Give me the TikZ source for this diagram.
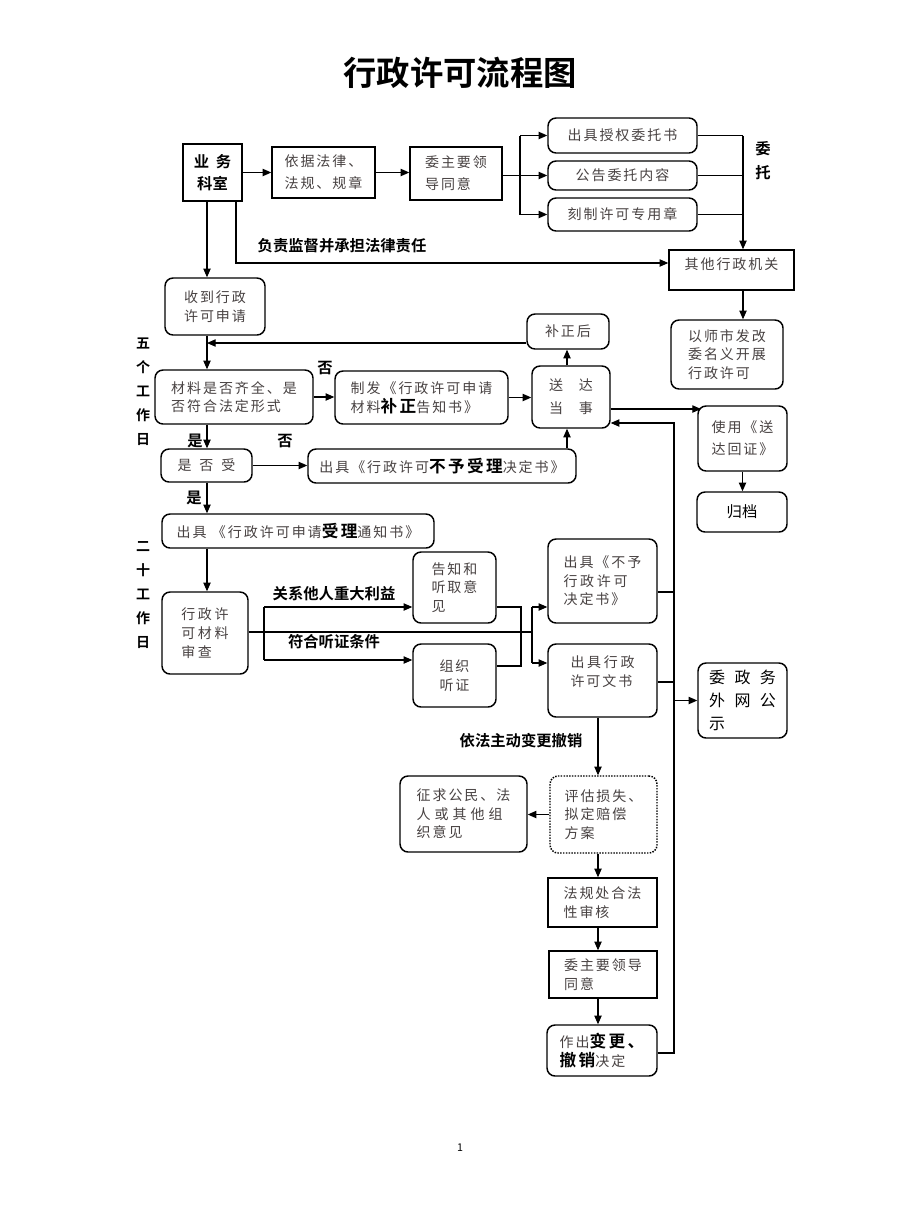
\documentclass[tikz,border=0pt]{standalone}
\usepackage{fontspec}
\setmainfont{Noto Sans CJK SC}[BoldFont={Noto Sans CJK SC Bold}]
\newfontfamily\boxfam{Noto Sans CJK SC}[LetterSpace=14,BoldFont={Noto Sans CJK SC Bold}]
\usetikzlibrary{arrows.meta}
\definecolor{txt}{RGB}{72,66,66}
\newcommand\boxtxt{\boxfam\fontsize{10.5pt}{14pt}\selectfont}
\newcommand\lbltxt{\bfseries\fontsize{11.5pt}{14pt}\selectfont}
\newcommand\hlb[1]{{\bfseries\fontsize{12.5pt}{14pt}\selectfont\color{black}#1}}
\newcommand\gp[1][3pt]{\hspace{#1}}
\begin{document}
\begin{tikzpicture}[x=0.75pt,y=-0.75pt,
  pos/.style n args={4}{at={({(#1+#3)/2},{(#2+#4)/2})}, minimum width={(#3-#1)*0.75pt}, minimum height={(#4-#2)*0.75pt}},
  box/.style={draw, line width=1.1pt, inner sep=0pt, align=center, font=\boxtxt, text=txt},
  rbox/.style={box, rounded corners=6pt},
  lft/.style={align=left},
  conn/.style={line width=0.8pt, -{Triangle[length=6.5pt,width=5.5pt]}},
  ln/.style={line width=0.8pt},
  lbl/.style={font=\lbltxt, text=black, inner sep=0pt, align=center}]
\path[use as bounding box, fill=white] (0,0) rectangle (923,1210);

% title
\node[inner sep=0pt, font=\bfseries\fontsize{25pt}{28pt}\selectfont] (title) at (460,73) {行政许可流程图};

% boxes
\node[box, pos={183}{144}{242}{201}, font=\bfseries\fontsize{11.5pt}{16pt}\selectfont, text=black] (ywks) {业\gp[5pt]务\\科室};
\node[box, pos={272}{147}{375}{198}, font=\boxfam\fontsize{10.5pt}{16.5pt}\selectfont] (yj) {依据法律、\\法规、规章};
\node[box, lft, pos={410}{147}{502}{200}, font=\boxfam\fontsize{10.5pt}{16.5pt}\selectfont] (lead1) {委主要领\\导同意};
\node[rbox, pos={548}{118}{697}{153}] (sq) {出具授权委托书};
\node[rbox, pos={548}{161}{697}{190}] (gg) {公告委托内容};
\node[rbox, pos={548}{198}{697}{231}] (kz) {刻制许可专用章};
\node[box, pos={669}{250}{794}{290}, text depth=10pt] (qt) {其他行政机关};
\node[rbox, lft, pos={671}{320}{783}{389}] (ys) {以师市发改\\委名义开展\\行政许可};
\node[rbox, lft, pos={165}{278}{265}{335}] (sd) {收到行政\\许可申请};
\node[rbox, pos={527}{314}{609}{349}] (bzh) {补正后};
\node[rbox, lft, pos={155}{370}{313}{424}] (cl) {材料是否齐全、是\\否符合法定形式};
\node[rbox, lft, pos={335}{371}{508}{424}] (zf) {制发《行政许可申请\\材料\hlb{补正}告知书》};
\node[rbox, pos={532}{366}{610}{428}, font=\boxfam\fontsize{10.5pt}{17pt}\selectfont] (sdd) {送\gp[12pt]达\\当\gp[12pt]事};
\node[rbox, pos={161}{449}{252}{482}] (sf) {是\gp[6pt]否\gp[6pt]受};
\node[rbox, pos={308}{449}{576}{483}] (byl) {出具《行政许可\hlb{不予受理}决定书》};
\node[rbox, pos={162}{514}{434}{548}] (tz) {出具\gp[4pt]《行政许可申请\hlb{受理}通知书》};
\node[rbox, lft, pos={162}{592}{248}{674}] (sc) {行\gp[2pt]政\gp[2pt]许\\可\gp[2pt]材\gp[2pt]料\\审\gp[2pt]查};
\node[rbox, lft, pos={413}{552}{496}{623}] (gz) {告知和\\听取意\\见};
\node[rbox, pos={413}{644}{496}{707}] (zz) {组织\\听证};
\node[rbox, lft, pos={548}{539}{657}{623}] (bxk) {出具《不予\\行\gp[2pt]政\gp[2pt]许\gp[2pt]可\\决定书》};
\node[rbox, lft, pos={548}{644}{657}{717}, text depth=14pt] (ws) {出\gp[2pt]具\gp[2pt]行\gp[2pt]政\\许可文书};
\node[rbox, lft, pos={698}{663}{787}{738}, font=\fontsize{12pt}{17pt}\selectfont, text=black] (gs) {委\gp[7pt]政\gp[7pt]务\\外\gp[7pt]网\gp[7pt]公\\示};
\node[rbox, lft, pos={698}{406}{787}{471}, font=\boxfam\fontsize{10.5pt}{16.5pt}\selectfont] (hz) {使用《送\\达回证》};
\node[rbox, pos={697}{492}{787}{532}, font=\fontsize{11.5pt}{14pt}\selectfont, text=black] (gd) {归档};
\node[rbox, lft, pos={550}{776}{657}{853}, densely dotted] (pg) {评估损失、\\拟定赔偿\\方案};
\node[rbox, lft, pos={400}{776}{527}{852}] (zq) {征求公民、法\\人\gp{}或\gp{}其\gp{}他\gp{}组\\织意见};
\node[box, lft, pos={548}{878}{657}{927}] (fg) {法规处合法\\性审核};
\node[box, lft, pos={549}{951}{657}{998}] (lead2) {委主要领导\\同意};
\node[rbox, lft, pos={547}{1025}{657}{1076}] (zc) {作出\hlb{变更、}\\\hlb{撤销}决定};

% helper coordinates
\coordinate (c0) at (207,0);
\coordinate (r0) at (236,263);
\coordinate (b1) at (520,0);
\coordinate (b2) at (743,0);
\coordinate (j1) at (207,343);
\coordinate (c1) at (567,0);
\coordinate (k1) at (701,409);
\coordinate (v2) at (674,423);
\coordinate (h1) at (532,632);
\coordinate (y607) at (0,607);
\coordinate (y663) at (0,663);
\coordinate (y660) at (0,660);
\coordinate (v1) at (264,0);
\coordinate (ra) at (521,607);
\coordinate (rb) at (521,666);
\coordinate (c2) at (598,0);
\coordinate (ybx) at (0,592);
\coordinate (yws) at (0,682);
\coordinate (yzc) at (0,1053);

% top row
\draw[conn] (ywks.east) -- (ywks.east -| yj.west);
\draw[conn] (yj.east) -- (yj.east -| lead1.west);
\draw[ln] (lead1.east |- gg.west) -- (b1 |- gg.west);
\draw[ln] (b1 |- sq.west) -- (b1 |- kz.west);
\draw[conn] (b1 |- sq.west) -- (sq.west);
\draw[conn] (b1 |- gg.west) -- (gg.west);
\draw[conn] (b1 |- kz.west) -- (kz.west);
\draw[ln] (sq.east) -- (sq.east -| b2);
\draw[ln] (gg.east) -- (gg.east -| b2);
\draw[ln] (kz.east) -- (kz.east -| b2);
\draw[conn] (sq.east -| b2) -- (b2 |- qt.north);
\draw[conn] (b2 |- qt.south) -- (b2 |- ys.north);
\draw[conn] (r0 |- ywks.south) -- (r0) -- (r0 -| qt.west);

% main column
\draw[conn] (c0 |- ywks.south) -- (c0 |- sd.north);
\draw[conn] (c0 |- sd.south) -- (c0 |- cl.north);
\draw[conn] (bzh.west |- j1) -- (j1);
\draw[conn] (cl.east) -- (cl.east -| zf.west);
\draw[conn] (zf.east) -- (zf.east -| sdd.west);
\draw[conn] (c1 |- sdd.north) -- (c1 |- bzh.south);
\draw[conn] (c0 |- cl.south) -- (c0 |- sf.north);
\draw[conn] (sf.east) -- (sf.east -| byl.west);
\draw[conn] (c1 |- byl.north) -- (c1 |- sdd.south);
\draw[conn] (c0 |- sf.south) -- (c0 |- tz.north);
\draw[conn] (c0 |- tz.south) -- (c0 |- sc.north);
\draw[conn] (sdd.east |- k1) -- (k1);
\draw[conn] (hz.south) -- (hz.south |- gd.north);

% review stage
\draw[ln] (sc.east |- h1) -- (h1);
\draw[ln] (v1 |- y607) -- (v1 |- y660);
\draw[conn] (v1 |- y607) -- (gz.west |- y607);
\draw[conn] (v1 |- y660) -- (zz.west |- y660);
\draw[ln] (gz.east |- ra) -- (ra) -- (rb) -- (zz.east |- rb);
\draw[ln] (h1 |- y607) -- (h1 |- y663);
\draw[conn] (h1 |- y607) -- (bxk.west |- y607);
\draw[conn] (h1 |- y663) -- (ws.west |- y663);

% right long line
\draw[conn] (zc.east |- yzc) -- (v2 |- yzc) -- (v2) -- (v2 -| sdd.east);
\draw[ln] (bxk.east |- ybx) -- (v2 |- ybx);
\draw[ln] (ws.east |- yws) -- (v2 |- yws);
\draw[conn] (v2 |- gs.west) -- (gs.west);

% change / revoke
\draw[conn] (c2 |- ws.south) -- (c2 |- pg.north);
\draw[conn] (pg.west) -- (pg.west -| zq.east);
\draw[conn] (c2 |- pg.south) -- (c2 |- fg.north);
\draw[conn] (c2 |- fg.south) -- (c2 |- lead2.north);
\draw[conn] (c2 |- lead2.south) -- (c2 |- zc.north);

% labels
\node[lbl] (l1) at (342,246) {负责监督并承担法律责任};
\node[lbl, font=\bfseries\fontsize{11.5pt}{18pt}\selectfont] (l2) at (763,161) {委\\托};
\node[lbl, font=\bfseries\fontsize{10.5pt}{18pt}\selectfont] (l3) at (143,392) {五\\个\\工\\作\\日};
\node[lbl, font=\bfseries\fontsize{10.5pt}{18pt}\selectfont] (l4) at (143,595) {二\\十\\工\\作\\日};
\node[lbl] (l5) at (325,368) {否};
\node[lbl] (l6) at (195,441) {是};
\node[lbl] (l7) at (285,441) {否};
\node[lbl] (l8) at (194,498) {是};
\node[lbl] (l9) at (334,594) {关系他人重大利益};
\node[lbl] (l10) at (334,642) {符合听证条件};
\node[lbl] (l11) at (521,741) {依法主动变更撤销};
\node[inner sep=0pt, font=\fontsize{8pt}{10pt}\selectfont] (pn) at (460,1148) {1};
\end{tikzpicture}
\end{document}
